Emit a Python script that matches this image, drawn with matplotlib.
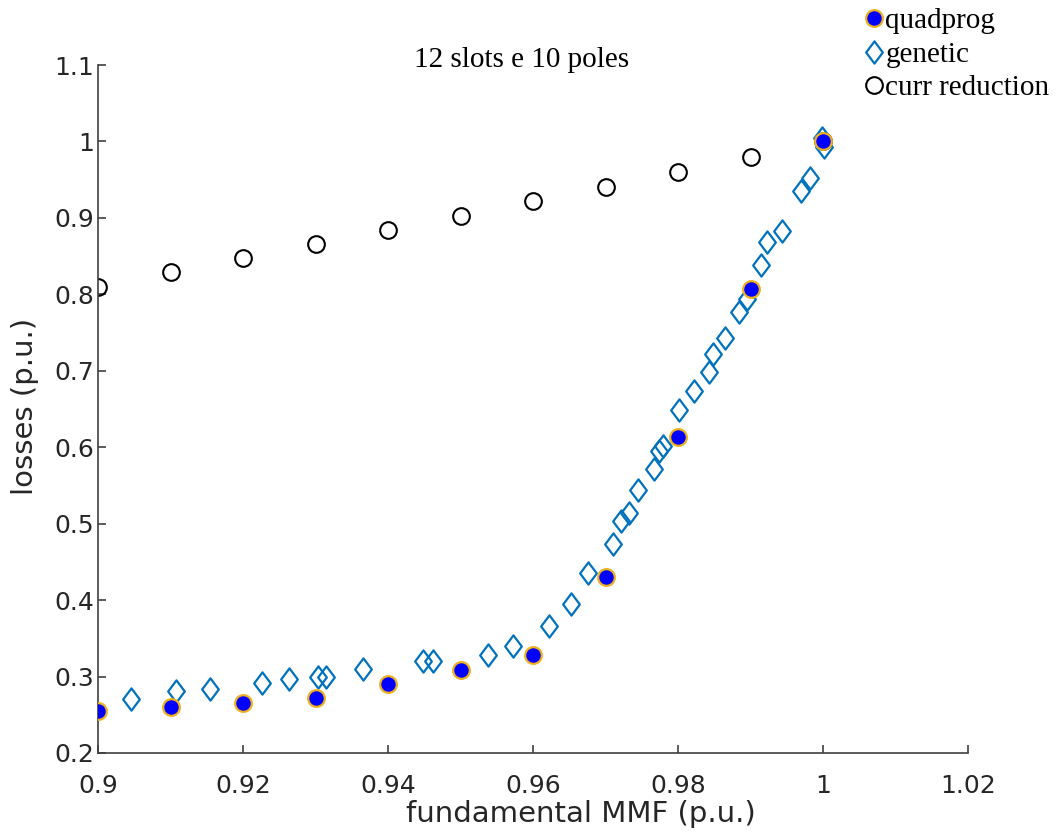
import matplotlib
matplotlib.use('Agg')
import matplotlib.pyplot as plt
from matplotlib.path import Path

# fundamental MMF (p.u.) and losses (p.u.)
quad_x = [0.90, 0.91, 0.92, 0.93, 0.94, 0.95, 0.96, 0.97, 0.98, 0.99, 1.00]
quad_y = [0.255, 0.260, 0.266, 0.272, 0.290, 0.309, 0.328, 0.430, 0.614, 0.807, 1.000]

gen_x = [0.9045, 0.9108, 0.9154, 0.9226, 0.9263, 0.9303, 0.9314, 0.9366, 0.9448, 0.9462,
         0.9538, 0.9572, 0.9622, 0.9652, 0.9676, 0.9710, 0.9721, 0.9732, 0.9745, 0.9767,
         0.9774, 0.9779, 0.9801, 0.9822, 0.9843, 0.9848, 0.9865, 0.9884, 0.9895, 0.9914,
         0.9923, 0.9943, 0.9970, 0.9982, 0.9999, 1.0001]
gen_y = [0.271, 0.281, 0.284, 0.292, 0.297, 0.299, 0.299, 0.310, 0.321, 0.321,
         0.328, 0.340, 0.366, 0.395, 0.436, 0.474, 0.503, 0.514, 0.544, 0.572,
         0.595, 0.602, 0.649, 0.674, 0.699, 0.722, 0.743, 0.777, 0.794, 0.838,
         0.868, 0.883, 0.935, 0.952, 1.005, 0.993]

curr_x = [0.90, 0.91, 0.92, 0.93, 0.94, 0.95, 0.96, 0.97, 0.98, 0.99, 1.00]
curr_y = [0.810, 0.829, 0.848, 0.866, 0.884, 0.903, 0.922, 0.941, 0.960, 0.980, 1.000]

xticks = [0.9, 0.92, 0.94, 0.96, 0.98, 1.0, 1.02]
xtick_labels = ['0.9', '0.92', '0.94', '0.96', '0.98', '1', '1.02']
yticks = [0.2, 0.3, 0.4, 0.5, 0.6, 0.7, 0.8, 0.9, 1.0, 1.1]
ytick_labels = ['0.2', '0.3', '0.4', '0.5', '0.6', '0.7', '0.8', '0.9', '1', '1.1']

# matlab style tall diamond
diamond = Path([(0, 1), (0.75, 0), (0, -1), (-0.75, 0), (0, 1)],
               [Path.MOVETO, Path.LINETO, Path.LINETO, Path.LINETO, Path.CLOSEPOLY])

fig = plt.figure(figsize=(10.59, 8.36), dpi=100, facecolor='w')
ax = fig.add_axes([98/1059, 83/836, 870/1059, 688/836])

h_curr, = ax.plot(curr_x, curr_y, linestyle='none', marker='o', markersize=12,
                  markerfacecolor='none', markeredgecolor='black', markeredgewidth=1.5,
                  label='curr reduction', zorder=2)
h_gen, = ax.plot(gen_x, gen_y, linestyle='none', marker=diamond, markersize=16,
                 markerfacecolor='none', markeredgecolor='#0072BD', markeredgewidth=1.6,
                 label='genetic', zorder=3)
h_quad, = ax.plot(quad_x, quad_y, linestyle='none', marker='o', markersize=12,
                  markerfacecolor='#0000FF', markeredgecolor='#EDB120', markeredgewidth=1.6,
                  label='quadprog', zorder=4)

ax.set_xlim(0.9, 1.02)
ax.set_ylim(0.2, 1.1)
ax.set_xticks(xticks)
ax.set_xticklabels(xtick_labels)
ax.set_yticks(yticks)
ax.set_yticklabels(ytick_labels)

for pos in ['top', 'right']:
    ax.spines[pos].set_visible(False)
for pos in ['left', 'bottom']:
    ax.spines[pos].set_color('#404040')
    ax.spines[pos].set_linewidth(1.2)
ax.tick_params(axis='both', direction='in', length=6, width=1.2, color='#404040',
               labelsize=18, labelcolor='#262626')
ax.tick_params(axis='x', pad=15)
ax.tick_params(axis='y', pad=3)

ax.set_xlabel('fundamental MMF (p.u.)', fontsize=21, color='#262626')
ax.set_ylabel('losses (p.u.)', fontsize=21, color='#262626')
ax.xaxis.set_label_coords((581-98)/870, -47/688)
ax.yaxis.set_label_coords(-59/870, (753-406)/688)

fig.text(522/1059, 1 - 67/836, '12 slots e 10 poles', family='Liberation Serif',
         fontsize=21, ha='center', va='baseline')

leg = ax.legend(handles=[h_quad, h_gen, h_curr], loc='upper left',
                bbox_to_anchor=(865/1059, 1 - 8/836), bbox_transform=fig.transFigure,
                frameon=False, borderpad=0, borderaxespad=0, handlelength=0.6,
                handletextpad=0.1, labelspacing=0.24,
                prop={'family': 'Liberation Serif', 'size': 21})

fig.savefig('out.png', dpi=100)
